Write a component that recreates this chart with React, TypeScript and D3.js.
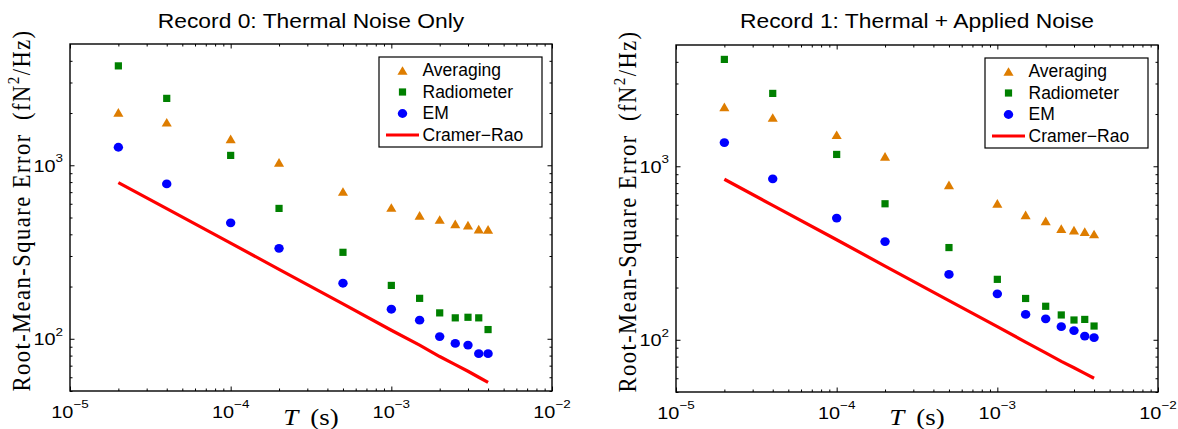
import React, { useRef, useEffect } from "react";
import * as d3 from "d3";

// Averaging periods T (s), shared by every series
const periods = [2e-5, 4e-5, 1e-4, 2e-4, 5e-4, 1e-3, 1.5e-3, 2e-3, 2.5e-3, 3e-3, 3.5e-3, 4e-3];

const xTickExponents = [-5, -4, -3, -2];
const yTickExponents = [2, 3];
const seriesNames = ["Averaging", "Radiometer", "EM", "Cramer\u2212Rao"];

// Record 0: thermal noise only
const rec0Averaging = [2020, 1770, 1420, 1040, 706, 571, 514, 487, 460, 452, 429, 427];
const rec0Radiometer = [3740, 2430, 1140, 564, 315, 203, 171, 141, 132, 133, 132, 113];
const rec0EM = [1270, 781, 466, 332, 209, 148, 128, 103, 94, 92, 82, 82];
const rec0CramerRao = [795, 562, 356, 251, 159, 112, 92, 79, 71, 65, 60, 56];

// Record 1: thermal + applied noise
const rec1Averaging = [2200, 1910, 1520, 1140, 781, 611, 524, 484, 437, 429, 420, 407];
const rec1Radiometer = [4130, 2630, 1170, 608, 340, 223, 173, 156, 139, 130, 131, 120];
const rec1EM = [1370, 846, 503, 368, 238, 184, 140, 132, 119, 113, 105, 103];
const rec1CramerRao = [842, 595, 377, 266, 168, 119, 97, 84, 75, 69, 64, 60];

const COLORS = { avg: "#de7d00", rad: "#008000", em: "#0000ff", crb: "#ff0000" };
const SANS = "'Liberation Sans', Arial, sans-serif";
const SERIF = "'Liberation Serif', 'Times New Roman', serif";
const SX = 1.17; // the source figure is stretched horizontally

const panels = [
  {
    title: "Record 0: Thermal Noise Only",
    left: 70,
    top: 44,
    avg: rec0Averaging,
    rad: rec0Radiometer,
    em: rec0EM,
    crb: rec0CramerRao,
  },
  {
    title: "Record 1: Thermal + Applied Noise",
    left: 676,
    top: 45,
    avg: rec1Averaging,
    rad: rec1Radiometer,
    em: rec1EM,
    crb: rec1CramerRao,
  },
];

const W = 482;
const H = 347;

// MATLAB-style '^' marker, centred on its bounding box
const matlabTriangle = {
  draw(ctx: any, size: number) {
    const w = Math.sqrt(size);
    const h = w * 0.86;
    ctx.moveTo(0, -h / 2);
    ctx.lineTo(w / 2, h / 2);
    ctx.lineTo(-w / 2, h / 2);
    ctx.closePath();
  },
};

function drawPanel(root: any, p: any) {
  const x = d3.scaleLog().domain([1e-5, 1e-2]).range([p.left, p.left + W]);
  const y = d3.scaleLog().domain([50, 5000]).range([p.top + H, p.top]);
  const g = root.append("g");

  const xAll = x.ticks();
  const yAll = y.ticks();
  const isMajor = (t: number) => Math.abs(Math.log10(t) - Math.round(Math.log10(t))) < 1e-6;
  const xMinor = xAll.filter((t) => !isMajor(t));
  const yMinor = yAll.filter((t) => !isMajor(t) && t < 5000);
  const xMajor = xTickExponents.map((e) => Math.pow(10, e));
  const yMajor = yTickExponents.map((e) => Math.pow(10, e));

  const tickAxis = (axisFn: any, scale: any, values: number[], len: number, transform: string) => {
    g.append("g")
      .attr("transform", transform)
      .call(axisFn(scale).tickValues(values).tickSizeInner(-len).tickSizeOuter(0).tickFormat(() => ""))
      .call((s: any) => s.select(".domain").remove())
      .call((s: any) => s.selectAll("line").attr("stroke", "#000").attr("stroke-width", 1));
  };

  // inward ticks on all four sides
  tickAxis(d3.axisBottom, x, xMinor, 2.5, `translate(0,${p.top + H})`);
  tickAxis(d3.axisBottom, x, xMajor, 4.5, `translate(0,${p.top + H})`);
  tickAxis(d3.axisTop, x, xMinor, 2.5, `translate(0,${p.top})`);
  tickAxis(d3.axisTop, x, xMajor, 4.5, `translate(0,${p.top})`);
  tickAxis(d3.axisLeft, y, yMinor, 2.5, `translate(${p.left},0)`);
  tickAxis(d3.axisLeft, y, yMajor, 4.5, `translate(${p.left},0)`);
  tickAxis(d3.axisRight, y, yMinor, 2.5, `translate(${p.left + W},0)`);
  tickAxis(d3.axisRight, y, yMajor, 4.5, `translate(${p.left + W},0)`);

  // box
  g.append("rect")
    .attr("x", p.left)
    .attr("y", p.top)
    .attr("width", W)
    .attr("height", H)
    .attr("fill", "none")
    .attr("stroke", "#000")
    .attr("stroke-width", 1.4);

  // x tick labels
  xTickExponents.forEach((e) => {
    const t = g
      .append("text")
      .attr("transform", `translate(${x(Math.pow(10, e))},${p.top + H + 27}) scale(${SX},1)`)
      .attr("text-anchor", "middle")
      .attr("font-family", SANS)
      .attr("font-size", 17)
      .attr("fill", "#000");
    t.append("tspan").text("10");
    t.append("tspan").attr("dy", -10.5).attr("font-size", 11.5).text("\u2212" + Math.abs(e));
  });

  // y tick labels
  yTickExponents.forEach((e) => {
    const t = g
      .append("text")
      .attr("transform", `translate(${p.left - 7},${y(Math.pow(10, e)) + 6.5}) scale(${SX},1)`)
      .attr("text-anchor", "end")
      .attr("font-family", SANS)
      .attr("font-size", 17)
      .attr("fill", "#000");
    t.append("tspan").text("10");
    t.append("tspan").attr("dy", -9.5).attr("font-size", 11.5).text(String(e));
  });

  // title
  g.append("text")
    .attr("transform", `translate(${p.left + W / 2},28) scale(${SX},1)`)
    .attr("text-anchor", "middle")
    .attr("font-family", SANS)
    .attr("font-size", 19.5)
    .attr("fill", "#000")
    .text(p.title);

  // x label
  const xl = g
    .append("text")
    .attr("transform", `translate(${p.left + W / 2},425) scale(${SX},1)`)
    .attr("text-anchor", "middle")
    .attr("font-family", SERIF)
    .attr("font-size", 23)
    .attr("fill", "#000");
  xl.append("tspan").attr("font-style", "italic").text("T");
  xl.append("tspan").text("\u00a0\u2009(s)");

  // y label
  const yl = g
    .append("text")
    .attr("transform", `translate(${p.left - 40.5},${p.top + H / 2 - 7}) scale(1.12,1) rotate(-90)`)
    .attr("text-anchor", "middle")
    .attr("font-family", SERIF)
    .attr("font-size", 22.5)
    .attr("letter-spacing", 1.5)
    .attr("fill", "#000");
  yl.append("tspan").text("Root-Mean-Square Error\u00a0\u2009(fN");
  yl.append("tspan").attr("dy", -9).attr("font-size", 15).text("2");
  yl.append("tspan").attr("dy", 9).text("/Hz)");

  const rows = periods.map((t, i) => ({ t, avg: p.avg[i], rad: p.rad[i], em: p.em[i], crb: p.crb[i] }));

  // Cramer-Rao bound
  const line = d3
    .line<any>()
    .x((d) => x(d.t))
    .y((d) => y(d.crb));
  g.append("path")
    .datum(rows)
    .attr("d", line)
    .attr("fill", "none")
    .attr("stroke", COLORS.crb)
    .attr("stroke-width", 3.2);

  const tri = d3.symbol().type(matlabTriangle as any).size(102);
  const sq = d3.symbol().type(d3.symbolSquare).size(52);

  g.append("g")
    .selectAll("path")
    .data(rows)
    .enter()
    .append("path")
    .attr("transform", (d: any) => `translate(${x(d.t)},${y(d.avg)})`)
    .attr("d", tri)
    .attr("fill", COLORS.avg);

  g.append("g")
    .selectAll("path")
    .data(rows)
    .enter()
    .append("path")
    .attr("transform", (d: any) => `translate(${x(d.t)},${y(d.rad)})`)
    .attr("d", sq)
    .attr("fill", COLORS.rad);

  g.append("g")
    .selectAll("ellipse")
    .data(rows)
    .enter()
    .append("ellipse")
    .attr("cx", (d: any) => x(d.t))
    .attr("cy", (d: any) => y(d.em))
    .attr("rx", 4.7)
    .attr("ry", 4.4)
    .attr("fill", COLORS.em);

  // legend
  const lw = 163;
  const lh = 90;
  const lx = p.left + W - 10 - lw;
  const ly = p.top + 13;
  const lg = g.append("g");
  lg.append("rect")
    .attr("x", lx)
    .attr("y", ly)
    .attr("width", lw)
    .attr("height", lh)
    .attr("fill", "#fff")
    .attr("stroke", "#000")
    .attr("stroke-width", 1.2);

  seriesNames.forEach((name, i) => {
    const cy = ly + 13.5 + i * 21.5;
    const mx = lx + 23.5;
    if (i === 0) lg.append("path").attr("transform", `translate(${mx},${cy})`).attr("d", tri).attr("fill", COLORS.avg);
    if (i === 1) lg.append("path").attr("transform", `translate(${mx},${cy})`).attr("d", sq).attr("fill", COLORS.rad);
    if (i === 2) lg.append("ellipse").attr("cx", mx).attr("cy", cy).attr("rx", 4.7).attr("ry", 4.4).attr("fill", COLORS.em);
    if (i === 3)
      lg.append("line")
        .attr("x1", lx + 7)
        .attr("x2", lx + 40)
        .attr("y1", cy)
        .attr("y2", cy)
        .attr("stroke", COLORS.crb)
        .attr("stroke-width", 3.2);
    lg.append("text")
      .attr("x", lx + 43.5)
      .attr("y", cy + 5.8)
      .attr("font-family", SANS)
      .attr("font-size", 17.5)
      .attr("fill", "#000")
      .text(name);
  });
}

export default function App() {
  const svgRef = useRef<SVGSVGElement | null>(null);

  useEffect(() => {
    if (!svgRef.current) return;
    const svg = d3.select(svgRef.current);
    svg.selectAll("*").remove();
    svg.append("rect").attr("width", 1178).attr("height", 429).attr("fill", "#fff");
    panels.forEach((p) => drawPanel(svg, p));
    return () => {
      svg.selectAll("*").remove();
    };
  }, []);

  return (
    <svg
      ref={svgRef}
      width={1178}
      height={429}
      style={{ position: "absolute", left: 0, top: 0, display: "block" }}
    />
  );
}
